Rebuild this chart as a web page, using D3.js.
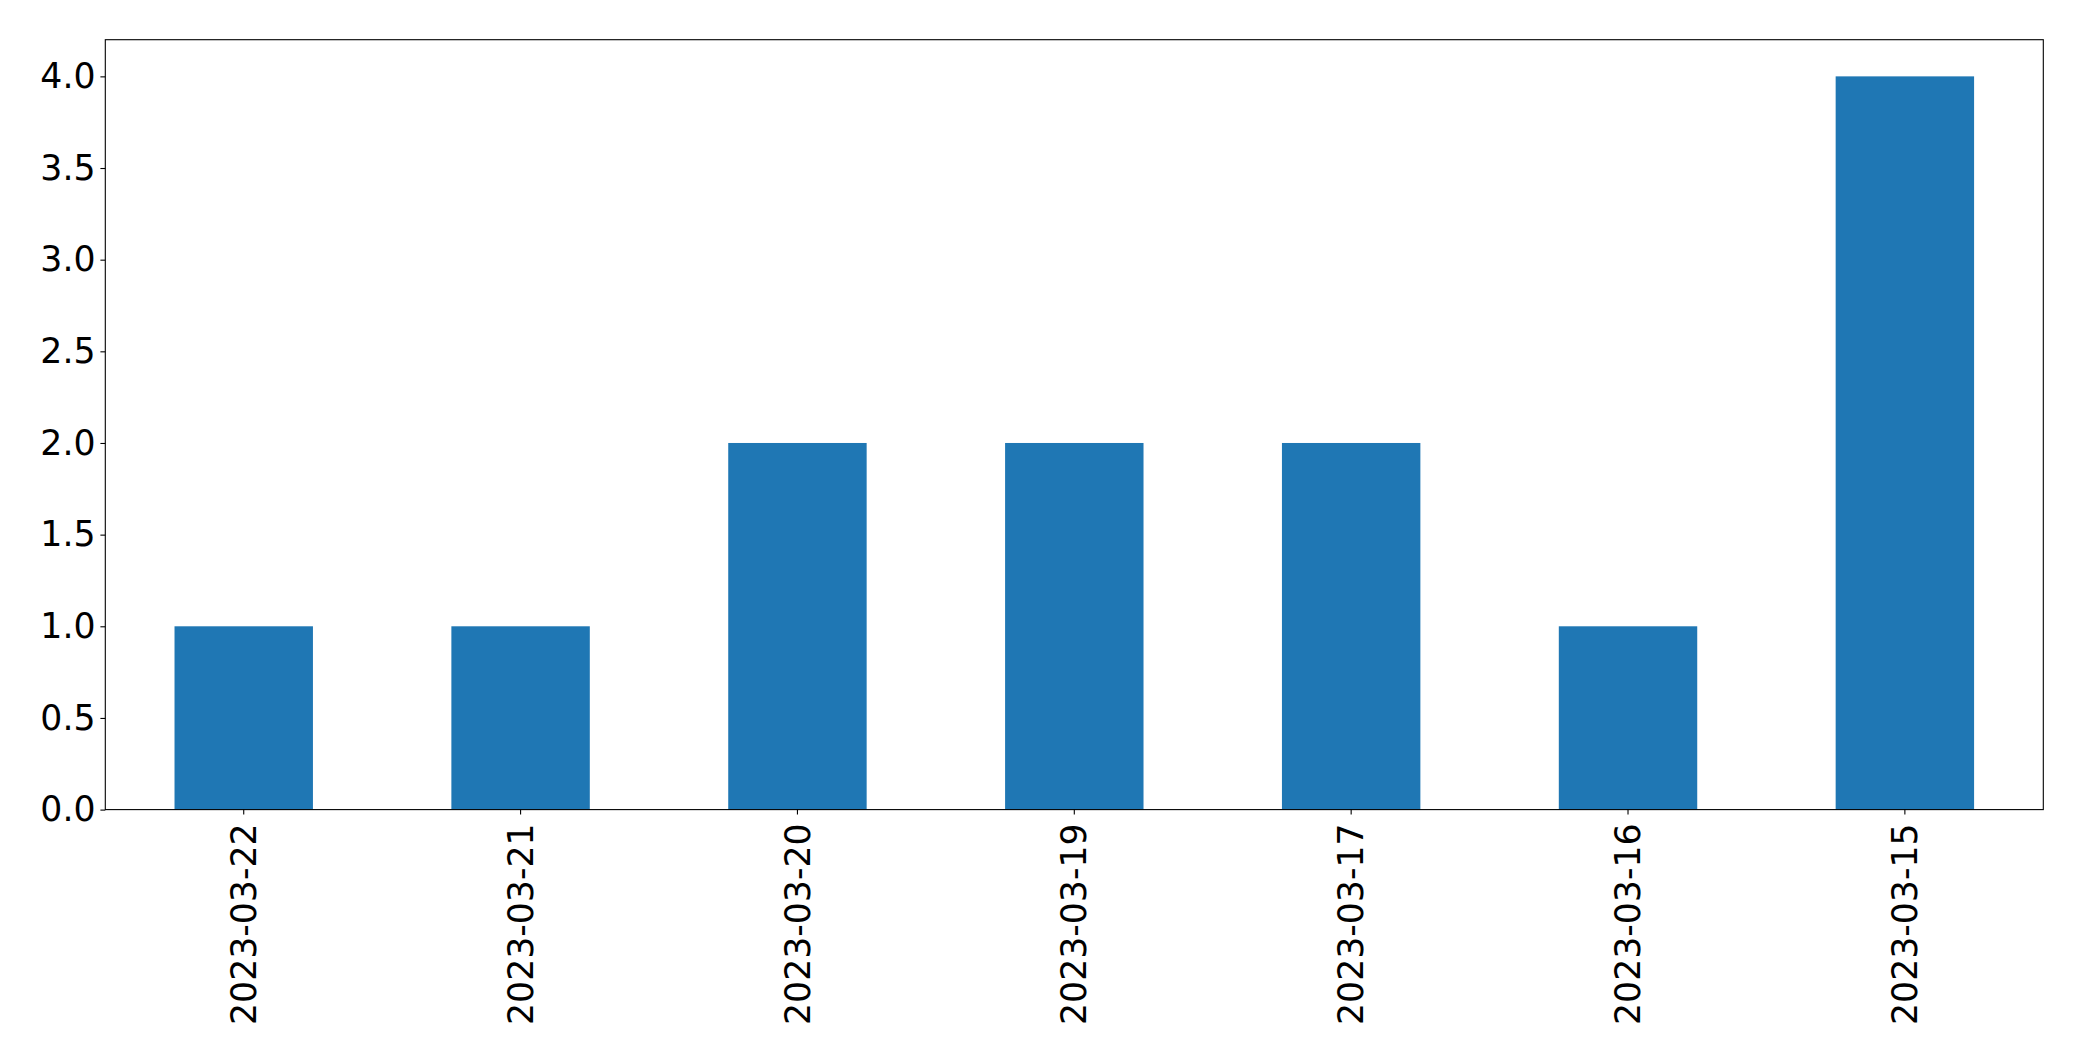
<!DOCTYPE html>
<html><head><meta charset="utf-8">
<script src="https://cdn.jsdelivr.net/npm/d3@7"></script>
<style>html,body{margin:0;padding:0;background:#fff;}svg{display:block;}</style>
</head><body>
<script>
const categories = ["2023-03-22","2023-03-21","2023-03-20","2023-03-19","2023-03-17","2023-03-16","2023-03-15"];
const values = [1,1,2,2,2,1,4];
const yTicks = [0,0.5,1.0,1.5,2.0,2.5,3.0,3.5,4.0];

const W = 2082, H = 1061;
const m = {left:105.3, top:39.7, right:2082-2043.3, bottom:1061-809.6};
const svg = d3.select("body").append("svg").attr("width",W).attr("height",H);
const x = d3.scaleBand().domain(categories).range([m.left, W-m.right]).paddingInner(0.5).paddingOuter(0.25);
const y = d3.scaleLinear().domain([0,4.2]).range([H-m.bottom, m.top]);

svg.append("g").selectAll("rect").data(values).join("rect")
  .attr("x",(d,i)=>x(categories[i])).attr("width",x.bandwidth())
  .attr("y",d=>y(d)).attr("height",d=>y(0)-y(d)).attr("fill","#1f77b4");

const font = "DejaVu Sans";
const yAxis = svg.append("g").attr("transform",`translate(${m.left},0)`)
  .call(d3.axisLeft(y).tickValues(yTicks).tickFormat(d3.format(".1f")).tickSize(4.9).tickPadding(4.9));
const xAxis = svg.append("g").attr("transform",`translate(0,${H-m.bottom})`)
  .call(d3.axisBottom(x).tickSize(4.9).tickPadding(4.9));
[yAxis,xAxis].forEach(a=>{
  a.select(".domain").remove();
  a.selectAll(".tick line").attr("stroke","#000").attr("stroke-width",1.1);
  a.selectAll("text").attr("font-family",font).attr("font-size","34.7px").attr("fill","#000");
});
xAxis.selectAll(".tick text")
  .attr("transform","rotate(-90)")
  .attr("text-anchor","end").attr("dy","0.35em")
  .attr("x",-(4.9+4.9+4)).attr("y",0);

svg.append("rect").attr("x",m.left).attr("y",m.top)
  .attr("width",W-m.right-m.left).attr("height",H-m.bottom-m.top)
  .attr("fill","none").attr("stroke","#000").attr("stroke-width",1.1);
</script>
</body></html>
